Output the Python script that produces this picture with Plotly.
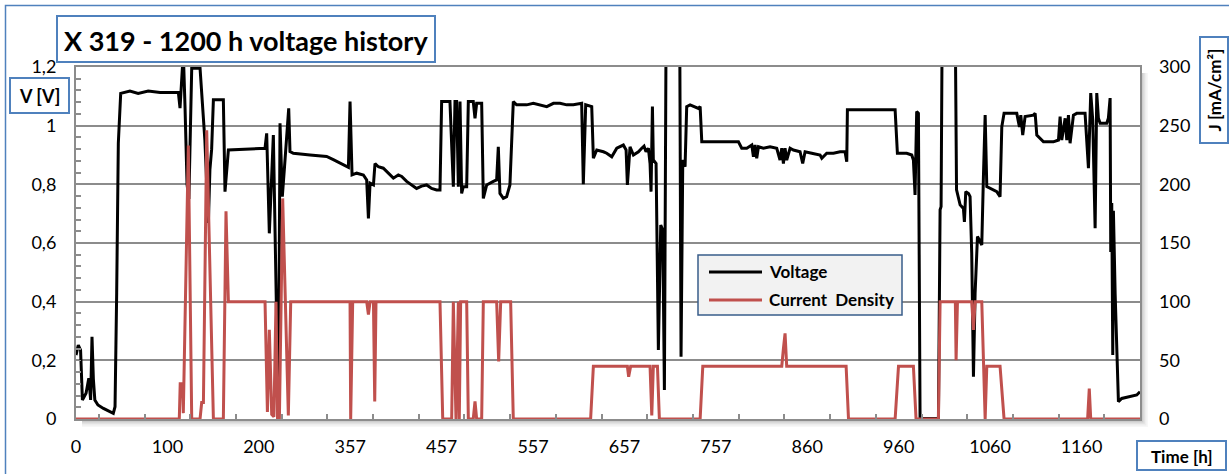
import plotly.graph_objects as go

# ---- data: sample index along the category axis, value ----
v_idx = [0, 2.5, 5, 7, 11, 14, 16, 17.5, 19, 20.6, 24, 30, 40.8, 42.7, 44.5, 46.3, 48.9, 59, 68, 79, 92,
         112, 113.8, 115.6, 117.4, 119.3, 121.5, 123.5, 126.6, 135.7, 137.5, 141, 144.8, 146.5, 148.4,
         150.3, 161.2, 163, 166.7, 206.8, 208.6, 211.5, 215.9, 219.5, 221.4, 223.2, 225.7, 227.9, 232.7,
         234.1, 237.8, 256, 274.2, 281.5, 298, 299.8, 302, 307.1, 314.4, 318, 319.9, 321.7, 325.4, 327.1,
         330.8, 336.2, 341.7, 347.2, 352.6, 356.3, 361.7, 367.2, 372.6, 378.1, 383.6, 389, 394.5, 398.2,
         400, 409.1, 412.8, 414.6, 416.4, 418.3, 420.1, 421.9, 423.7, 427.4, 429.2, 434.6, 436.5, 438.3,
         443.8, 445.6, 449.3, 456.6, 460.2, 462, 463.8, 467.5, 471.1, 474.7, 478.4, 482, 493, 500.3,
         507.7, 515, 522.3, 529.5, 536.8, 544.1, 553.2, 555, 557.6, 562.4, 564.2, 566, 569.7, 577, 580.6,
         586.1, 591.6, 598.8, 601.8, 603.2, 606.1, 609.8, 615.3, 618.9, 621.4, 623.6, 626.2, 628, 629.1,
         630.6, 631.6, 634.6, 637.1, 639.7, 641.9, 643.7, 645.5, 647, 660.5, 661.9, 663.8, 666.3, 668.1,
         671.8, 677.3, 680.9, 682.8, 684.6, 704.6, 724.7, 728.3, 733.8, 739.3, 741.1, 742.9, 744.7, 746.6,
         752, 759.3, 766.6, 770.2, 772.1, 773.9, 775.7, 777.5, 781.2, 784.8, 792.1, 795, 797.6, 804.9,
         814, 815.9, 821.3, 828.6, 835.9, 841.3, 843.2, 843.9, 850.5, 872.4, 896.1, 898.6, 908.8, 914.3,
         916.1, 917.9, 919.7, 921.6, 923.4, 943.5, 945.3, 946.4, 947.5, 962, 963.3, 967.2, 970.8, 971.9,
         973.4, 976.4, 978.1, 979.9, 981.8, 983.6, 986.2, 988.4, 990.9, 992.7, 994.6, 996.4, 1000, 1007.3,
         1010.9, 1012.8, 1015.3, 1029.2, 1032.1, 1033.6, 1035.7, 1038.3, 1047.4, 1049.3, 1051.1, 1054.7,
         1058.4, 1062, 1069.3, 1074.8, 1076.6, 1078.4, 1082.1, 1083.9, 1085.7, 1087.5, 1091.2, 1094.8,
         1103.9, 1107.6, 1110.1, 1112.3, 1114.9, 1116.7, 1118.5, 1120.4, 1127.6, 1129.4, 1131.3, 1132,
         1133.1, 1134.2, 1134.9, 1136.8, 1140.4, 1144, 1153.2, 1160.5, 1164]
v_val = [0.218, 0.252, 0.235, 0.065, 0.088, 0.139, 0.065, 0.28, 0.136, 0.065, 0.048, 0.036, 0.019, 0.042,
         0.43, 0.94, 1.11, 1.118, 1.11, 1.118, 1.113, 1.113, 1.06, 1.156, 1.25, 1.06, 0.80, 0.75, 1.196,
         1.196, 1.1, 0.95, 0.668, 0.85, 0.92, 1.088, 1.088, 0.775, 0.917, 0.923, 0.974, 0.633, 0.968, 0.3,
         0.0, 1.008, 0.758, 0.85, 1.059, 0.912, 0.906, 0.9, 0.895, 0.884, 0.858, 1.082, 0.832, 0.838,
         0.832, 0.815, 0.684, 0.804, 0.798, 0.871, 0.86, 0.855, 0.838, 0.821, 0.832, 0.827, 0.81, 0.798,
         0.786, 0.794, 0.798, 0.786, 0.781, 0.781, 1.082, 1.082, 0.792, 1.082, 1.082, 0.792, 1.082, 0.769,
         0.792, 0.792, 1.082, 1.082, 1.025, 1.076, 1.076, 0.752, 0.798, 0.81, 0.815, 0.928, 0.769, 0.752,
         0.758, 0.798, 1.082, 1.071, 1.071, 1.076, 1.071, 1.065, 1.076, 1.076, 1.071, 1.071, 1.076, 0.8,
         1.071, 1.065, 1.065, 0.889, 0.917, 0.911, 0.906, 0.894, 0.923, 0.934, 0.917, 0.798, 0.928, 0.9,
         0.911, 0.923, 0.930, 0.911, 0.923, 0.871, 0.775, 1.065, 0.883, 0.871, 0.235, 0.661, 0.644, 0.099,
         1.3, 1.3, 1.3, 0.212, 0.883, 0.860, 1.065, 1.071, 1.065, 1.059, 1.065, 0.945, 0.945, 0.945, 0.923,
         0.923, 0.934, 0.894, 0.934, 0.889, 0.928, 0.923, 0.928, 0.923, 0.883, 0.923, 0.871, 0.923, 0.883,
         0.923, 0.917, 0.911, 0.871, 0.911, 0.906, 0.9, 0.889, 0.906, 0.906, 0.911, 0.911, 0.877, 1.054,
         1.054, 1.054, 1.054, 0.906, 0.906, 0.9, 0.883, 0.764, 1.048, 1.042, 0.002, 0.002, 0.713, 0.724,
         1.3, 1.3, 0.781, 0.730, 0.718, 0.672, 0.775, 0.769, 0.758, 0.565, 0.144, 0.428, 0.622, 0.610,
         0.593, 0.826, 1.036, 0.792, 0.786, 0.775, 0.758, 0.996, 1.042, 1.042, 0.996, 1.036, 0.968, 1.031,
         1.036, 1.042, 0.968, 0.957, 0.945, 0.945, 0.945, 0.951, 1.031, 0.951, 1.025, 0.951, 1.036, 0.94,
         1.036, 1.042, 1.042, 0.855, 1.111, 1.019, 0.650, 1.111, 1.025, 1.008, 1.008, 1.025, 1.094, 0.569,
         0.736, 0.218, 0.71, 0.428, 0.059, 0.070, 0.076, 0.082, 0.093]

j_idx = [0, 113, 114, 116.5, 117.4, 122.9, 126.6, 135.7, 137.5, 139.4, 143, 150.3, 161.2, 164.1, 166.7,
         206.8, 209.4, 211.5, 214.1, 216.5, 218.8, 220.5, 222.5, 226.1, 232.3, 234.9, 299.8, 300.5, 302.7,
         318, 319.9, 321.7, 325.4, 326.8, 328.2, 398.2, 401.2, 411, 412.8, 415.7, 418.3, 419.3, 420.8,
         427.4, 429.2, 434.6, 436.5, 438.3, 443.8, 445.6, 460.2, 462.4, 464.6, 475.5, 478.4, 563, 566,
         603.2, 604.6, 606.8, 628, 629.9, 631.6, 636.1, 638.2, 682.8, 685.7, 772.1, 773.9, 775.7, 777.5,
         842.5, 845.1, 896.1, 899.8, 916.1, 919, 943.5, 945.3, 962, 962.8, 964.3, 979.9, 981.8, 983.6,
         990.9, 994.6, 996.4, 1010.9, 1015.3, 1106.7, 1108.5, 1110.1, 1164]
j_val = [0, 0, 30, 30, 5, 233, 0, 0, 14, 14, 246, 0, 0, 177, 100,
         100, 6, 76, 4, 2, 100, 0, 0, 188, 3, 100, 100, 0, 100,
         100, 89, 100, 100, 15, 100, 100, 0, 0, 100, 0, 100, 0, 100,
         100, 0, 0, 15, 0, 0, 100, 100, 49, 100, 100, 0, 0, 45,
         45, 36, 45, 45, 3, 45, 45, 0, 0, 45, 45, 60, 73, 45,
         45, 0, 0, 45, 45, 0, 0, 100, 100, 50, 100, 100, 76, 100,
         100, 0, 45, 45, 0, 0, 26, 0, 0]

# category labels shown every 100 samples
label_pos = [0, 100, 200, 300, 400, 500, 600, 700, 800, 900, 1000, 1100]
time_labels = ["0", "100", "200", "357", "457", "557", "657", "757", "860", "960", "1060", "1160"]

# ---- layout geometry (pixels) ----
W, H = 1229, 474
PL, PR, PT, PB = 76, 1140, 67, 419


def fx(px):
    return (px - PL) / (PR - PL)


def fy(py):
    return (PB - py) / (PB - PT)


FONT = "Lato, Calibri, Carlito, sans-serif"
BLUE = "#4F81BD"
GRID = "#8C8C8C"
RED = "#C0504D"

fig = go.Figure()
fig.add_trace(go.Scatter(x=j_idx, y=j_val, mode="lines", name="Current  Density",
                         line=dict(color=RED, width=3), yaxis="y2", showlegend=False))
fig.add_trace(go.Scatter(x=v_idx, y=v_val, mode="lines", name="Voltage",
                         line=dict(color="black", width=3), showlegend=False))

shapes = []
# soft drop shadow along the right and bottom of the plot frame
for k, a in enumerate([0.10, 0.08, 0.06, 0.04, 0.03]):
    d = k + 1
    shapes.append(dict(type="rect", xref="paper", yref="paper", layer="below",
                       x0=fx(PR), x1=fx(PR + d * 1.6), y0=fy(PB + d * 1.6), y1=fy(PT + 6),
                       line=dict(width=0), fillcolor=f"rgba(0,0,0,{a})"))
    shapes.append(dict(type="rect", xref="paper", yref="paper", layer="below",
                       x0=fx(PL + 6), x1=fx(PR), y0=fy(PB), y1=fy(PB + d * 1.6),
                       line=dict(width=0), fillcolor=f"rgba(0,0,0,{a})"))

# outer chart frame
shapes.append(dict(type="rect", xref="paper", yref="paper", x0=fx(5.5), x1=fx(W + 20),
                   y0=fy(H + 20), y1=fy(5.5), line=dict(color=BLUE, width=1.5)))


def box(x0, x1, y0, y1, color=BLUE, fill="white", width=2):
    shapes.append(dict(type="rect", xref="paper", yref="paper", x0=fx(x0), x1=fx(x1),
                       y0=fy(y1), y1=fy(y0), line=dict(color=color, width=width), fillcolor=fill))


box(57, 435, 16, 62)          # title
box(10, 69, 78, 113)          # left axis title
box(1200, 1228, 37, 143)      # right axis title
box(1137, 1226, 441, 470)     # x axis title
box(698, 902, 255, 315, color="#385D8A", fill="#F2F2F2", width=1.5)  # legend
# legend samples
shapes.append(dict(type="line", xref="paper", yref="paper", x0=fx(709), x1=fx(762),
                   y0=fy(272), y1=fy(272), line=dict(color="black", width=3)))
shapes.append(dict(type="line", xref="paper", yref="paper", x0=fx(709), x1=fx(762),
                   y0=fy(300), y1=fy(300), line=dict(color=RED, width=3)))

annotations = [
    dict(text="<b>X 319 - 1200 h voltage history</b>", x=fx(246), y=fy(40), font=dict(size=27)),
    dict(text="<b>V [V]</b>", x=fx(39.5), y=fy(96), font=dict(size=18)),
    dict(text="<b>J [mA/cm²]</b>", x=fx(1214.5), y=fy(90), font=dict(size=17), textangle=-90),
    dict(text="<b>Time [h]</b>", x=fx(1181.5), y=fy(456), font=dict(size=17)),
    dict(text="<b>Voltage</b>", x=fx(767), y=fy(271), font=dict(size=17), xanchor="left"),
    dict(text="<b>Current  Density</b>", x=fx(767), y=fy(299), font=dict(size=17), xanchor="left"),
]
for a in annotations:
    a.update(xref="paper", yref="paper", showarrow=False)
    a.setdefault("xanchor", "center")
    a["yanchor"] = "middle"
    a["font"].update(family=FONT, color="black")

fig.update_layout(
    width=W, height=H,
    margin=dict(l=PL, r=W - PR, t=PT, b=H - PB, pad=0),
    paper_bgcolor="white", plot_bgcolor="white",
    separators=", ",
    font=dict(family=FONT, size=18, color="black"),
    xaxis=dict(range=[0, 1164], tickmode="array", tickvals=label_pos, ticktext=time_labels,
               ticks="", showgrid=False, zeroline=False, showline=True, linecolor=GRID,
               linewidth=2, mirror=True, ticklabelstandoff=10,
               minor=dict(tickmode="array", tickvals=[25 + 50 * k for k in range(23)],
                          ticks="inside", ticklen=5, tickcolor=GRID, tickwidth=1.5, showgrid=False)),
    yaxis=dict(range=[0, 1.2], tick0=0, dtick=0.2, showgrid=True, gridcolor=GRID, gridwidth=2,
               zeroline=False, showline=True, linecolor=GRID, linewidth=2, mirror=True,
               ticks="inside", ticklen=5, tickcolor=GRID, ticklabelstandoff=14,
               minor=dict(dtick=0.04, tick0=0, ticks="inside", ticklen=5, tickcolor=GRID,
                          tickwidth=1.5, showgrid=False)),
    yaxis2=dict(range=[0, 300], tick0=0, dtick=50, overlaying="y", side="right",
                showgrid=False, zeroline=False, showline=False, ticks="", ticklabelstandoff=18),
    shapes=shapes,
    annotations=annotations,
)

fig.write_html("out.html")
